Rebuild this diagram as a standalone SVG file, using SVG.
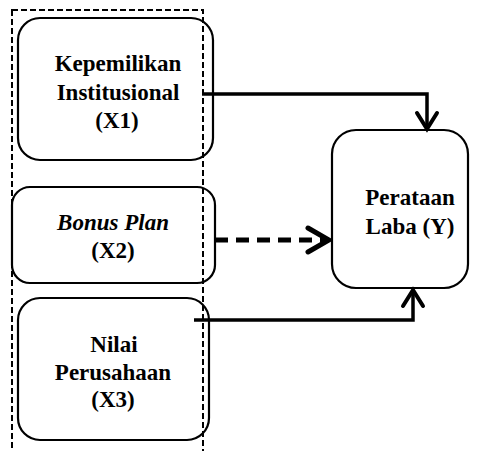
<svg xmlns="http://www.w3.org/2000/svg" width="480" height="451" viewBox="0 0 480 451">
<style>
.box{fill:#fff;stroke:#000;stroke-width:2.2}
.t{font-family:'Liberation Serif','Times New Roman',serif;font-weight:bold;font-size:23px;text-anchor:middle;fill:#000}
.c{fill:none;stroke:#000;stroke-width:3.5}
.frame{fill:none;stroke:#000;stroke-width:2;stroke-dasharray:6,3}
</style>
<defs>
<marker id="ah" markerWidth="30" markerHeight="30" refX="24" refY="15" orient="auto" markerUnits="userSpaceOnUse" viewBox="0 0 30 30">
<path d="M8,5 L24,15 L8,25" fill="none" stroke="#000" stroke-width="4" stroke-linecap="round" stroke-linejoin="miter"/>
</marker>
<marker id="ahd" markerWidth="30" markerHeight="30" refX="26" refY="15" orient="auto" markerUnits="userSpaceOnUse" viewBox="0 0 30 30">
<path d="M5,3 L26,15 L5,27" fill="none" stroke="#000" stroke-width="5" stroke-linecap="round" stroke-linejoin="miter"/>
</marker>
</defs>
<rect width="480" height="451" fill="#fff"/>
<g id="x1">
<rect class="box" x="18" y="18" width="195" height="142" rx="22"/>
<text class="t" x="118" y="71">Kepemilikan</text>
<text class="t" x="118" y="100">Institusional</text>
<text class="t" x="117" y="128">(X1)</text>
</g>
<g id="x2">
<rect class="box" x="12" y="187" width="203" height="96" rx="18"/>
<text class="t" x="113" y="230"><tspan font-style="italic">Bonus Plan</tspan></text>
<text class="t" x="113" y="258">(X2)</text>
</g>
<g id="x3">
<rect class="box" x="18" y="298" width="191" height="142" rx="22"/>
<text class="t" x="114" y="352">Nilai</text>
<text class="t" x="113" y="380">Perusahaan</text>
<text class="t" x="113" y="407">(X3)</text>
</g>
<g id="y">
<rect class="box" x="332" y="130" width="136" height="158" rx="24"/>
<text class="t" x="410" y="205">Perataan</text>
<text class="t" x="410" y="234">Laba (Y)</text>
</g>
<rect class="frame" x="12" y="10" width="191" height="460"/>
<g id="connectors">
<path class="c" d="M202,94 H427 V129" marker-end="url(#ah)"/>
<path d="M215,240 H329" fill="none" stroke="#000" stroke-width="5" stroke-dasharray="13,8" marker-end="url(#ahd)"/>
<path class="c" d="M194,320 H413 V290" marker-end="url(#ah)"/>
</g>
</svg>
